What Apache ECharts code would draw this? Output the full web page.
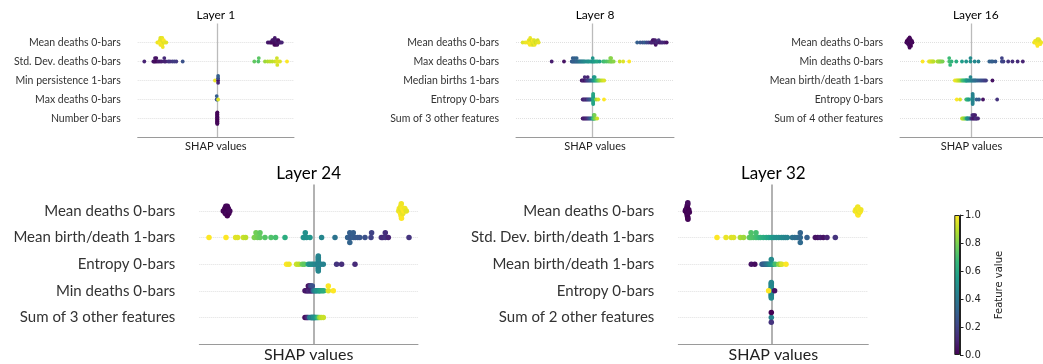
<!DOCTYPE html>
<html><head><meta charset="utf-8">
<script src="https://cdn.jsdelivr.net/npm/echarts@6/dist/echarts.min.js"></script>
<style>html,body{margin:0;padding:0;background:#fff}#c{width:1043px;height:364px}</style>
</head><body><div id="c"></div>
<script>
// ---------------- data ----------------
const viridis = ['#440154','#482878','#3e4989','#31688e','#26828e','#1f9e89','#35b779','#6ece58','#b5de2b','#fde725'];
const colorbarTicks = [0, 0.2, 0.4, 0.6, 0.8, 1.0];

const layer1Features = ['Mean deaths 0-bars','Std. Dev. deaths 0-bars','Min persistence 1-bars','Max deaths 0-bars','Number 0-bars'];
const layer1Rows = [
  [[-60,0.98],[-58.5,0.95],[-58,1],[-57.5,0.97],[-57,0.99],[-57,0.96],[-56.5,1],[-56.5,0.97],[-56,0.98],[-56,0.95],[-55.5,1],[-55.5,0.96],[-55,0.99],[-55,0.97],[-54.5,0.98],[-54,0.95],[-53.5,1],[-52.5,0.97],[-51,0.96],
   [50.5,0.08],[52,0.05],[53.5,0.1],[54,0.03],[55,0.06],[55.5,0.02],[56,0.08],[56.5,0.04],[57,0.05],[57,0.02],[57.5,0.07],[58,0.03],[58,0.06],[58.5,0.01],[59,0.05],[59.5,0.08],[60,0.04],[60.5,0.06],[61,0.02],[62,0.05],[63,0.07],[64.5,0.1]],
  [[-73,0.1],[-64,0.05],[-63,0.04],[-62.3,0.06],[-62,0.03],[-61,0.05],[-60.5,0.02],[-59,0.07],[-57.3,0.06],[-55.6,0.08],[-53,0.1],[-53,0.12],[-51.6,0.09],[-49,0.15],[-47.3,0.14],[-45,0.16],[-43,0.18],[-41,0.17],[-34.6,0.25],
   [37,0.75],[41,0.72],[41.5,0.74],[47.7,0.85],[50.4,0.88],[52.7,0.9],[55,0.9],[57.7,0.92],[59.4,0.95],[59.6,0.93],[60,0.94],[61,0.96],[62.7,0.95],[69.7,1.0]],
  [[-2.3,0.97],[0.8,0.05],[0.8,0.25],[0.8,0.1],[0.8,0.3]],
  [[0,0.62],[-0.6,0.25],[-0.6,0.3],[0.8,0.95]],
  [[0,0.0],[0,0.01],[0,0.02],[0,0.0],[0,0.01],[0,0.03],[0,0.0],[0,0.02],[0,0.01],[0,0.0],[0,0.02],[0,0.01],[0,0.0],[0,0.03],[0,0.01],[0,0.0],[0,0.02],[0,0.01]]
];

const layer8Features = ['Mean deaths 0-bars','Max deaths 0-bars','Median births 1-bars','Entropy 0-bars','Sum of 3 other features'];
const layer8Rows = [
  [[-70,0.95],[-67.5,0.97],[-65.5,1],[-64.5,0.96],[-64,0.98],[-63.5,1],[-63,0.95],[-63,0.99],[-62.5,0.97],[-62,1],[-61.5,0.94],[-61,0.98],[-60.5,0.96],[-60,1],[-59.5,0.93],[-59,0.97],[-58.5,0.95],[-58,0.98],[-57,0.92],[-56,0.96],[-55,0.94],[-54,0.97],
   [44.5,0.3],[47.5,0.28],[50,0.25],[52,0.3],[54,0.22],[56,0.2],[58,0.12],[59,0.1],[60,0.08],[60.5,0.1],[61,0.05],[62,0.1],[62.5,0.08],[63,0.05],[64,0.12],[65,0.1],[66,0.15],[67,0.08],[68.5,0.1],[70,0.12],[72,0.1],[74,0.05]],
  [[-41,0.08],[-28.7,0.05],[-21,0.3],[-20,0.28],[-20,0.3],[-19,0.32],[-18,0.3],[-18,0.31],[-17,0.3],[-16,0.35],[-16,0.32],[-15,0.32],[-14,0.35],[-13,0.38],[-12,0.4],[-11,0.42],[-10,0.45],[-9,0.45],[-8,0.48],[-6.5,0.48],[-5,0.5],[-4,0.5],[-2.5,0.52],[-1,0.55],[0,0.5],[0,0.52],[1,0.55],[2,0.55],[3.5,0.58],[5,0.6],[7,0.55],[10.5,0.68],[12,0.7],[14,0.72],[16,0.75],[17.5,0.78],[17.5,0.8],[18.5,0.8],[18.5,0.82],[19.5,0.8],[21,0.82],[27,0.92],[30.5,0.95],[36.5,1.0]],
  [[-11,0.05],[-10,0.08],[-9,0.1],[-8,0.05],[-8,0.12],[-7,0.1],[-6,0.15],[-5,0.2],[-5,0.1],[-4,0.22],[-3,0.25],[-2,0.3],[-1,0.35],[0,0.45],[1,0.5],[1,0.5],[2,0.55],[2,0.55],[3,0.6],[4,0.68],[5,0.72],[6,0.78],[7,0.82],[8.5,0.88],[10,0.92],[11.5,0.95]],
  [[-10,0.1],[-9,0.1],[-8,0.12],[-7,0.15],[-6,0.1],[-5,0.2],[-4,0.22],[-3,0.25],[-2,0.3],[0.5,0.56],[0.5,0.58],[0.5,0.57],[0.5,0.59],[0.5,0.58],[0.5,0.56],[0.5,0.6],[0.5,0.58],[0.5,0.57],[0.5,0.59],[3.5,0.85],[5.5,0.95],[11.3,1.0]],
  [[-10,0.05],[-9,0.1],[-8,0.08],[-7,0.1],[-6,0.12],[-5,0.15],[-4,0.2],[-3,0.25],[-2,0.3],[-1,0.35],[0,0.6],[0.5,0.65],[1,0.7],[1,0.72],[1.5,0.7],[1.5,0.75],[2,0.78],[2,0.8],[3,0.82],[4.5,0.92]]
];

const layer16Features = ['Mean deaths 0-bars','Min deaths 0-bars','Mean birth/death 1-bars','Entropy 0-bars','Sum of 4 other features'];
const layer16Rows = [
  [[-69,0.02],[-68.5,0.0],[-68,0.03],[-67.5,0.01],[-67,0.02],[-67,0.0],[-66.5,0.03],[-66.5,0.01],[-66,0.02],[-66,0.0],[-66,0.04],[-65.5,0.01],[-65.5,0.02],[-65,0.0],[-65,0.03],[-64.5,0.01],[-64.5,0.02],[-64,0.0],[-63.5,0.03],[-63,0.01],[-62.5,0.02],
   [66.5,0.97],[67.5,1],[68,0.98],[68.5,0.96],[69,1],[69,0.97],[69.5,0.99],[70,0.95],[70,1],[70.5,0.98],[71,0.96],[71,1],[71.5,0.97],[72,0.99],[72.5,0.95],[73,1],[74,0.98]],
  [[-51.7,1.0],[-45,0.97],[-44,0.95],[-43,0.95],[-42,0.93],[-41,0.92],[-40,0.9],[-36,0.88],[-35,0.86],[-34,0.85],[-33,0.83],[-32,0.82],[-30.5,0.8],[-23.5,0.7],[-23.5,0.68],[-22.5,0.66],[-21,0.65],[-16,0.62],[-10,0.55],[-5.5,0.52],[-1,0.5],[-1,0.48],[3.5,0.47],[7.5,0.45],[19,0.32],[21,0.3],[22.5,0.3],[25.5,0.28],[32.3,0.22],[32.3,0.2],[34,0.2],[39,0.15],[43.5,0.13],[49,0.12],[54.5,0.1]],
  [[-17.5,0.98],[-16,0.96],[-15,0.95],[-14,0.93],[-13,0.9],[-12,0.88],[-11,0.85],[-10,0.75],[-9,0.7],[-8,0.68],[-7,0.65],[-6,0.62],[-5.5,0.6],[-5,0.55],[-4,0.52],[-3,0.5],[-2,0.48],[-1,0.5],[-1,0.46],[0,0.45],[1,0.42],[2,0.4],[3,0.38],[4,0.36],[5,0.35],[6.5,0.33],[8,0.3],[9.5,0.28],[11,0.25],[12.5,0.22],[14,0.2],[15.5,0.18],[22.3,0.05]],
  [[-15.5,1.0],[-12,0.95],[-5.5,0.7],[-4.5,0.65],[-3.5,0.6],[-2.5,0.55],[1.3,0.45],[1.3,0.46],[1.3,0.44],[1.3,0.45],[1.3,0.47],[1.3,0.45],[1.3,0.44],[1.3,0.46],[1.3,0.45],[1.3,0.44],[5.5,0.3],[8,0.28],[12.3,0.05],[27.3,0.15]],
  [[-10,0.9],[-9,0.88],[-8,0.85],[-7,0.8],[-6,0.75],[-5,0.6],[-4.5,0.55],[-4,0.5],[-3,0.48],[-2,0.45],[-1,0.4],[0,0.15],[1,0.1],[1,0.12],[2,0.08],[2,0.1],[3,0.05],[3,0.12],[4,0.1],[4,0.08],[5,0.15],[5.5,0.12],[7,0.1]]
];

const layer24Features = ['Mean deaths 0-bars','Mean birth/death 1-bars','Entropy 0-bars','Min deaths 0-bars','Sum of 3 other features'];
const layer24Rows = [
  [[-90,0.0],[-89,0.02],[-88.5,0.01],[-88,0.0],[-87.5,0.02],[-87,0.01],[-87,0.0],[-86.5,0.03],[-86,0.01],[-86,0.0],[-85,0.02],[-85,0.01],[-84.5,0.0],[-83.5,0.02],
   [85.5,0.97],[86,1],[86.8,0.98],[87,0.96],[87.3,1],[87.5,0.97],[87.8,0.99],[88,0.98],[88.2,1],[88.5,0.96],[89,0.99],[89.5,0.97],[90.5,1],[91.5,0.98],[93,0.96]],
  [[-104.3,1.0],[-87.3,1.0],[-77.7,0.96],[-75.7,0.95],[-70,0.92],[-67.7,0.9],[-59,0.8],[-57.3,0.78],[-55.7,0.78],[-53.3,0.76],[-53.3,0.75],[-48.3,0.73],[-42.3,0.72],[-37.7,0.7],[-28.3,0.62],[-10,0.52],[-9,0.5],[-8,0.5],[-6.7,0.5],[-3.3,0.52],[8.3,0.46],[21.7,0.38],[34.3,0.32],[35,0.3],[36.5,0.3],[36.5,0.32],[37.5,0.28],[40,0.3],[40,0.3],[42,0.28],[44.5,0.28],[46.5,0.27],[51.7,0.25],[57.7,0.2],[58.3,0.2],[68,0.15],[69.5,0.12],[72,0.15],[72,0.13],[75,0.1],[95.7,0.15]],
  [[-26.7,1.0],[-24.3,0.98],[-16.7,0.92],[-14.3,0.9],[-11,0.78],[-9,0.75],[-5,0.55],[-3.3,0.5],[-1.5,0.5],[0,0.48],[2,0.46],[5,0.45],[5,0.46],[5,0.44],[5,0.45],[5,0.47],[5,0.45],[5,0.44],[5,0.46],[5,0.45],[5,0.44],[5,0.46],[5,0.45],[7.7,0.45],[10,0.44],[23.3,0.15],[28.3,0.13],[41.7,0.12]],
  [[-8.3,0.05],[-7,0.08],[-6,0.05],[-5,0.1],[-5,0.05],[-4,0.12],[-4,0.05],[-3,0.1],[-3,0.15],[-2,0.08],[-2,0.2],[-1,0.12],[-1,0.25],[0,0.3],[1,0.4],[2,0.45],[3,0.5],[4,0.52],[5.7,0.5],[6,0.55],[7.5,0.58],[9,0.6],[10.5,0.62],[15,0.95],[15,1.0],[20,1.0]],
  [[-8.3,0.02],[-7,0.05],[-6,0.1],[-5,0.15],[-3.5,0.45],[-2.5,0.48],[-2,0.3],[-1.5,0.5],[-1,0.5],[-0.5,0.35],[0,0.5],[0.5,0.52],[1,0.48],[1.5,0.5],[2,0.5],[3,0.55],[4,0.6],[5,0.7],[6.5,0.85],[8,0.9],[10,0.92]]
];

const layer32Features = ['Mean deaths 0-bars','Std. Dev. birth/death 1-bars','Mean birth/death 1-bars','Entropy 0-bars','Sum of 2 other features'];
const layer32Rows = [
  [[-86,0.01],[-85.5,0.0],[-85,0.02],[-84.8,0.0],[-84.5,0.01],[-84.5,0.03],[-84.2,0.0],[-84,0.02],[-84,0.01],[-84,0.0],[-83.8,0.02],[-83.6,0.01],[-83.5,0.0],[-83.5,0.03],[-83.4,0.01],[-83,0.02],[-82.5,0.0],[-82,0.01],
   [84,0.97],[84.5,1],[85.5,0.98],[85.7,0.96],[86,1],[86,0.97],[86.3,0.99],[86.5,0.98],[86.8,1],[87.3,0.96],[87.8,0.99],[88.3,0.97],[89,1],[89.5,0.98]],
  [[-54.3,1.0],[-45.3,0.97],[-40,0.95],[-37.7,0.95],[-31,0.87],[-27.7,0.85],[-22,0.75],[-20.3,0.73],[-20.3,0.72],[-18,0.72],[-15.3,0.7],[-15.3,0.7],[-13,0.68],[-11,0.65],[-8,0.62],[-5,0.6],[-2.5,0.58],[0,0.55],[2.5,0.52],[5,0.5],[7.5,0.5],[10,0.48],[12,0.47],[14,0.46],[16,0.45],[21,0.38],[23.5,0.36],[26,0.35],[29,0.33],[29,0.32],[29,0.34],[35.7,0.3],[44,0.05],[46.5,0.05],[49,0.08],[52,0.05],[55.7,0.1],[64,0.15]],
  [[-20,0.05],[-16.5,0.03],[-9.3,0.3],[-8,0.28],[-7,0.3],[-6,0.32],[-5,0.35],[-4,0.38],[-3,0.4],[-2,0.45],[-1,0.47],[-0.5,0.5],[0,0.5],[0,0.48],[1,0.52],[2,0.55],[4,0.7],[7.5,0.82],[9,0.85],[10.5,0.95],[14.7,1.0]],
  [[0,0.47],[0,0.46],[0,0.48],[0,0.47],[0,0.45],[0,0.47],[0,0.46],[0,0.48],[0,0.47],[0,0.46],[0,0.45],[0,0.47],[0,0.48],[0,0.46],[-2.7,1.0],[3.3,0.05]],
  [[0,0.45],[0,-1],[0,0.15]]
];

// ---------------- layout ----------------
const FONT = 'Lato';
const panels = [
  {title:'Layer 1',  features:layer1Features,  rows:layer1Rows,  left:137.7, top:23.5,  width:156.3, height:114, min:-79.6, max:76.7,  big:false},
  {title:'Layer 8',  features:layer8Features,  rows:layer8Rows,  left:516,   top:23.5,  width:158,   height:114, min:-76.7, max:81.3,  big:false},
  {title:'Layer 16', features:layer16Features, rows:layer16Rows, left:900,   top:23.5,  width:151.6, height:114, min:-75.7, max:75.9,  big:false},
  {title:'Layer 24', features:layer24Features, rows:layer24Rows, left:199.3, top:184.4, width:218.7, height:164, min:-114,  max:104.7, big:true},
  {title:'Layer 32', features:layer32Features, rows:layer32Rows, left:678.3, top:184.4, width:190,   height:164, min:-93,   max:97,    big:true}
];

// shap-style beeswarm offsets
function swarm(row) {
  const n = row.length, xs = row.map(d => d[0]);
  const mn = Math.min(...xs), mx = Math.max(...xs), nbins = 100;
  const quant = xs.map(x => Math.round(nbins * (x - mn) / (mx - mn + 1e-8)));
  const inds = [...Array(n).keys()].sort((a, b) => quant[a] - quant[b] || a - b);
  const ys = new Array(n).fill(0);
  let layer = 0, last = -1;
  for (const i of inds) {
    if (quant[i] !== last) layer = 0;
    ys[i] = Math.ceil(layer / 2) * ((layer % 2) * 2 - 1);
    layer++; last = quant[i];
  }
  const m = Math.max(...ys) + 1;
  return ys.map(y => -y * 0.9 * (0.4 / m));
}

const grids = [], xAxes = [], yAxes = [], series = [], graphics = [], scatterIdx = [];
panels.forEach((p, i) => {
  const big = p.big;
  grids.push({left:p.left, top:p.top, width:p.width, height:p.height});
  xAxes.push({type:'value', gridIndex:i, min:p.min, max:p.max,
    axisLine:{show:true, onZero:false, lineStyle:{color:'#9a9a9a', width:1}},
    axisTick:{show:false}, axisLabel:{show:false}, splitLine:{show:false},
    name:'SHAP values', nameLocation:'middle', nameGap:3,
    nameTextStyle:{fontFamily:FONT, fontSize: big ? 16 : 11, color:'#222', verticalAlign:'top'}});
  yAxes.push({type:'value', gridIndex:i, inverse:true, min:-1, max:5, interval:1,
    axisLine:{show:false}, axisTick:{show:false}, splitLine:{show:false},
    axisLabel:{formatter: v => (p.features[v] !== undefined ? p.features[v] : ''), margin: big ? 24 : 17,
      fontFamily:FONT, fontSize: big ? 15 : 10.5, color:'#333'}});
  const lines = p.features.map((f, r) => ({yAxis:r, lineStyle:{type:'dotted', color:'#e0e0e0', width:1}}));
  lines.push({xAxis:0, lineStyle:{type:'solid', color: big ? '#999' : '#bbb', width: big ? 1.5 : 1.3}});
  series.push({type:'scatter', xAxisIndex:i, yAxisIndex:i, data:[], silent:true, z:0,
    markLine:{silent:true, z:0, symbol:'none', label:{show:false}, animation:false, data:lines}});
  const pts = [];
  p.rows.forEach((row, r) => {
    const ys = swarm(row);
    row.forEach((d, k) => pts.push([d[0], r + ys[k], d[1]]));
  });
  scatterIdx.push(series.length);
  series.push({type:'scatter', xAxisIndex:i, yAxisIndex:i, data:pts, symbol:'circle', symbolSize: big ? 5.5 : 3.8,
    itemStyle:{opacity:1, borderWidth:0},
    emphasis:{disabled:true}, z:10});
  graphics.push({type:'text', x:p.left + p.width / 2, y: big ? 173.5 : 15,
    style:{text:p.title, textAlign:'center', textVerticalAlign:'middle', fontFamily:FONT,
      fontSize: big ? 17 : 12, fill:'#000'}});
});

// colorbar
const cb = panels.length;
grids.push({left:954.3, top:215, width:5.7, height:140});
xAxes.push({type:'category', gridIndex:cb, data:[''], show:false});
yAxes.push({type:'value', gridIndex:cb, min:0, max:1, interval:0.2, position:'right',
  axisLine:{show:true, lineStyle:{color:'#222', width:1}},
  axisTick:{show:true, length:3.5, lineStyle:{color:'#222'}},
  splitLine:{show:false},
  axisLabel:{formatter: v => colorbarTicks.includes(Math.round(v * 10) / 10) ? v.toFixed(1) : '', margin:5,
    fontFamily:'DejaVu Sans', fontSize:10, color:'#222'},
  name:'Feature value', nameLocation:'middle', nameRotate:90, nameGap:34,
  nameTextStyle:{fontFamily:'DejaVu Sans', fontSize:10, color:'#222'}});
series.push({type:'bar', xAxisIndex:cb, yAxisIndex:cb, data:[1], barWidth:'100%', silent:true,
  itemStyle:{borderColor:'#222', borderWidth:1, opacity:1,
    color:{type:'linear', x:0, y:1, x2:0, y2:0,
      colorStops: viridis.map((c, k) => ({offset:k / (viridis.length - 1), color:c}))}}});

const chart = echarts.init(document.getElementById('c'), null, {renderer:'canvas'});
chart.setOption({
  animation:false,
  backgroundColor:'#fff',
  grid:grids, xAxis:xAxes, yAxis:yAxes, series:series, graphic:graphics,
  visualMap:{type:'continuous', show:false, min:0, max:1, dimension:2, seriesIndex:scatterIdx,
    inRange:{color:viridis}, outOfRange:{color:'#777'}}
});
</script></body></html>
